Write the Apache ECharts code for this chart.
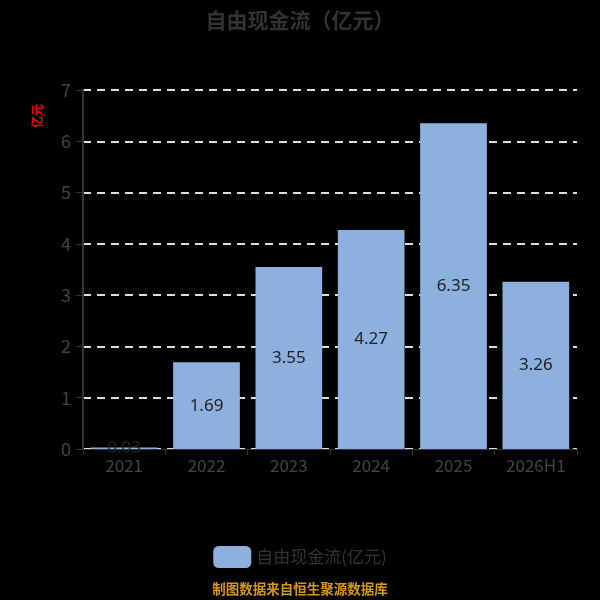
<!DOCTYPE html>
<html>
<head>
<meta charset="utf-8">
<script src="https://cdn.jsdelivr.net/npm/echarts@6/dist/echarts.min.js"></script>
<style>
html,body{margin:0;padding:0;background:#000;}
#chart{width:600px;height:600px;}
</style>
</head>
<body>
<div id="chart"></div>
<script>
const categories = ['2021', '2022', '2023', '2024', '2025', '2026H1'];
const values = [0.03, 1.69, 3.55, 4.27, 6.35, 3.26];
const seriesName = '自由现金流(亿元)';
const titleText = '自由现金流（亿元）';
const unitText = '亿元';
const footerText = '制图数据来自恒生聚源数据库';

const chart = echarts.init(document.getElementById('chart'));
chart.setOption({
  backgroundColor: '#000',
  animation: false,
  title: {
    text: titleText,
    left: 'center',
    top: 5,
    textStyle: { fontSize: 21, fontWeight: 'bold', color: '#333', fontFamily: 'Noto Sans CJK SC' }
  },
  legend: {
    data: [seriesName],
    left: 'center',
    top: 541,
    itemWidth: 38,
    itemHeight: 22,
    itemGap: 8,
    textStyle: { fontSize: 17, color: '#333', fontFamily: 'Noto Sans CJK SC' }
  },
  graphic: [
    {
      type: 'text',
      x: 37, y: 116,
      rotation: Math.PI / 2,
      style: { text: unitText, fill: '#ff0000', fontSize: 12, fontWeight: 'bold', textAlign: 'center', textVerticalAlign: 'middle', fontFamily: 'Noto Sans CJK SC' }
    },
    {
      type: 'text',
      left: 'center',
      top: 582,
      style: { text: footerText, fill: '#D4991C', fontSize: 13.5, fontWeight: 'bold', fontFamily: 'Noto Sans CJK SC' }
    }
  ],
  grid: { left: 83, right: 23, top: 90, bottom: 151, containLabel: false },
  xAxis: {
    type: 'category',
    data: categories,
    axisLine: { show: true, lineStyle: { color: '#333', width: 1 } },
    axisTick: { show: true, length: 6, lineStyle: { color: '#333' } },
    axisLabel: { fontSize: 17, color: '#444', margin: 8, fontFamily: 'Noto Sans CJK SC' }
  },
  yAxis: {
    type: 'value',
    min: 0,
    max: 7,
    interval: 1,
    axisLine: { show: true, lineStyle: { color: '#333', width: 2 } },
    axisTick: { show: true, length: 7, lineStyle: { color: '#333' } },
    axisLabel: { fontSize: 18, color: '#444', margin: 12, fontFamily: 'Noto Sans CJK SC' },
    splitLine: { show: true, lineStyle: { color: '#ddd', type: [8, 6], width: 2 } }
  },
  series: [{
    name: seriesName,
    type: 'bar',
    data: values,
    barWidth: '81%',
    itemStyle: { color: '#8EB0DE' },
    label: {
      show: true,
      position: 'inside',
      fontSize: 17,
      color: '#222',
      fontFamily: 'Noto Sans'
    }
  }]
});
</script>
</body>
</html>
